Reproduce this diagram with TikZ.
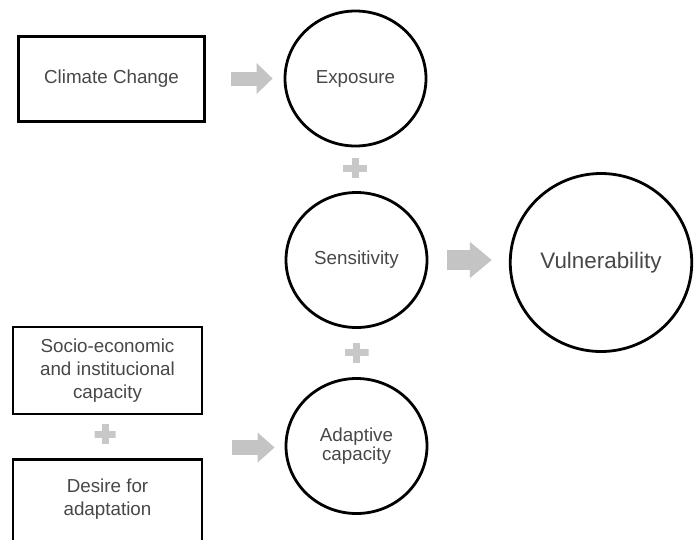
\documentclass[tikz,border=0pt]{standalone}
\usepackage{fontspec}
\setmainfont{Liberation Sans}
\usetikzlibrary{shapes.geometric,arrows.meta}
\definecolor{txtgray}{HTML}{474747}
\definecolor{arrowgray}{HTML}{C4C4C4}
\definecolor{plusgray}{HTML}{C8C8C8}

\begin{document}
\begin{tikzpicture}[x=1pt, y=-1pt,
		every node/.style={font=\fontsize{18.8}{23}\selectfont, text=txtgray, align=center},
		box/.style={draw=black, line width=2.8pt, rectangle, inner sep=0pt, minimum width=186.5pt, minimum height=85pt},
		circ/.style={draw=black, line width=2.8pt, ellipse, inner sep=0pt, minimum width=141pt, minimum height=135pt},
		bigarrow/.style={draw=arrowgray, line cap=butt},
		plus/.style={inner sep=0pt, minimum width=24pt, minimum height=20pt,
			path picture={
				\fill[plusgray] ([xshift=-12pt, yshift=-3.5pt]path picture bounding box.center) rectangle ++(24pt, 7pt);
				\fill[plusgray] ([xshift=-3.5pt, yshift=-10pt]path picture bounding box.center) rectangle ++(7pt, 20pt);
			}}]
	\useasboundingbox (0, 0) rectangle (694, 539);

	% boxes on the left
	\node[box] (climate) at (111.5, 79) {Climate Change};
	\node[box, minimum width=189pt, minimum height=87pt] (socio) at (107.5, 370.5) {Socio-economic\\and institucional\\capacity};
	\node[box, minimum width=189pt, minimum height=110pt, anchor=north] (desire) at (107.5, 458.25) {};
	\node (desiretext) at (107.5, 499) {Desire for\\adaptation};

	% circles
	\node[circ] (exposure) at (355.5, 78.5) {Exposure};
	\node[circ] (sensitivity) at (356.5, 260) {Sensitivity};
	\node[circ, font=\fontsize{18.8}{17}\selectfont] (adaptive) at (356.5, 446) {Adaptive\\capacity};
	\node[circ, minimum width=181.5pt, minimum height=178pt, font=\fontsize{22.4}{26}\selectfont] (vulnerability) at (601, 262.5) {Vulnerability};

	% plus signs
	\node[plus] (plusA) at (355, 168) {};
	\node[plus] (plusB) at (356.5, 352.5) {};
	\node[plus, minimum width=21pt, minimum height=22pt] (plusC) at (105, 434) {};

	% arrows
	\coordinate (capin) at (232, 447.5);
	\draw[bigarrow, line width=14pt, -{Triangle[width=30pt, length=16pt]}, shorten <=25pt, shorten >=11pt] (climate.east |- exposure.west) -- (exposure.west);
	\draw[bigarrow, line width=20pt, -{Triangle[width=35pt, length=22pt]}, shorten <=19pt, shorten >=17pt] (sensitivity.east) -- (vulnerability.west |- sensitivity.east);
	\draw[bigarrow, line width=15pt, -{Triangle[width=29pt, length=17pt]}, shorten >=10pt] (capin) -- (adaptive.west |- capin);
\end{tikzpicture}
\end{document}
